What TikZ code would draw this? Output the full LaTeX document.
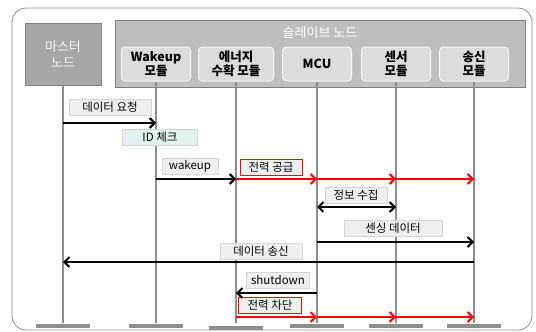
\documentclass[tikz,border=0pt]{standalone}
\usepackage{fontspec}
\setmainfont{Noto Sans CJK KR}
\usepackage{tikz}
\usetikzlibrary{arrows.meta}
\usepackage{xcolor}

\definecolor{framegray}{HTML}{8C8C8C}
\definecolor{mastergray}{HTML}{A6A6A6}
\definecolor{slavegray}{HTML}{BEBEBE}
\definecolor{modgray}{HTML}{DCDCDC}
\definecolor{lblfill}{HTML}{EFEFEF}
\definecolor{lbldraw}{HTML}{D4D4D4}
\definecolor{idfill}{HTML}{E2F1F1}
\definecolor{linegray}{HTML}{8E8E8E}

\tikzset{
    module/.style={draw=white!80!modgray, fill=modgray, rounded corners=4pt, line width=1pt,
        minimum width=69pt, minimum height=34pt, inner sep=0pt, align=center,
        font=\bfseries\fontsize{12.5}{14}\selectfont},
    lbl/.style={draw=lbldraw, fill=lblfill, line width=1pt, minimum height=16pt, inner sep=1pt,
        font=\fontsize{11.5}{12}\selectfont},
    redlbl/.style={lbl, draw=red},
    lifeline/.style={linegray, line width=1.5pt},
    endbar/.style={linegray, line width=4pt},
    barb/.tip={Straight Barb[length=5pt, width=10pt, line width=2pt]},
    call/.style={line width=2pt, -barb},
    power/.style={call, red}
}

\begin{document}
\begin{tikzpicture}[x=1pt, y=-1pt]

    \useasboundingbox (0, 0) rectangle (536, 332);

    % Outer frame
    \draw[framegray, line width=0.8pt, rounded corners=14pt] (12, 8) rectangle (532, 330);

    % Master node
    \node[draw=gray, fill=mastergray, minimum width=76pt, minimum height=62pt, inner sep=0pt,
          align=center, text=white!92!gray, font=\fontsize{13}{16}\selectfont]
          (ma) at (63, 54) {마스터\\노드};

    % Slave node group
    \node[draw=gray, fill=slavegray, minimum width=410pt, minimum height=67pt, inner sep=0pt]
          (sl) at (320, 53.5) {};
    \node[text=white, font=\fontsize{13}{15}\selectfont] (slt) at (320, 33) {슬레이브 노드};

    \node[module] (wk) at (156, 64) {Wakeup\\모듈};
    \node[module, minimum width=75pt] (en) at (236, 64) {에너지\\수확 모듈};
    \node[module] (mc) at (317, 64) {MCU};
    \node[module] (se) at (396, 64) {센서\\모듈};
    \node[module] (tx) at (474, 64) {송신\\모듈};

    % Lifelines and end bars
    \coordinate (bot) at (0, 323);
    \coordinate (bar) at (0, 326);
    \coordinate (barlow) at (0, 328);
    \draw[lifeline] (ma.south) -- (ma |- bot);
    \draw[lifeline] (wk.south) -- (wk |- bot);
    \draw[lifeline] (en.south) -- (en |- bot);
    \draw[lifeline] (mc.south) -- (mc |- bot);
    \draw[lifeline] (se.south) -- (se |- bot);
    \draw[lifeline] (tx.south) -- (tx |- bot);
    \draw[endbar] ([xshift=-27pt]ma |- bar) -- ([xshift=27pt]ma |- bar);
    \draw[endbar] ([xshift=-27pt]wk |- bar) -- ([xshift=27pt]wk |- bar);
    \draw[endbar] ([xshift=-27pt]en |- barlow) -- ([xshift=27pt]en |- barlow);
    \draw[endbar] ([xshift=-27pt]mc |- bar) -- ([xshift=27pt]mc |- bar);
    \draw[endbar] ([xshift=-27pt]se |- bar) -- ([xshift=27pt]se |- bar);
    \draw[endbar] ([xshift=-27pt]tx |- bar) -- ([xshift=27pt]tx |- bar);

    % Message rows
    \coordinate (r1) at (0, 123);  % data request
    \coordinate (r2) at (0, 179);  % wakeup / power on
    \coordinate (r3) at (0, 207);  % collect
    \coordinate (r4) at (0, 242);  % sensing data
    \coordinate (r5) at (0, 262);  % send data
    \coordinate (r6) at (0, 293);  % shutdown
    \coordinate (r7) at (0, 317);  % power off

    % Labels
    \node[lbl, minimum width=82pt] (l1) at (110, 107) {데이터 요청};
    \node[lbl, fill=idfill, minimum width=75pt] (l2) at (160, 137) {ID 체크};
    \node[lbl, minimum width=56pt] (l3) at (190, 166) {wakeup};
    \node[redlbl, minimum width=62pt] (l4) at (271, 167) {전력 공급};
    \node[lbl, minimum width=62pt] (l5) at (356, 195) {정보 수집};
    \node[lbl, minimum width=98pt] (l6) at (393, 228) {센싱 데이터};
    \node[lbl, minimum width=82pt] (l7) at (261, 251) {데이터 송신};
    \node[lbl, minimum width=63pt] (l8) at (278, 280) {shutdown};
    \node[redlbl, minimum width=63pt] (l9) at (270, 305) {전력 차단};

    % Arrows
    \draw[call] (ma |- r1) -- (wk |- r1);
    \draw[call] (wk |- r2) -- (en |- r2);
    \draw[power] (en |- r2) -- (mc |- r2);
    \draw[power] (mc |- r2) -- (se |- r2);
    \draw[power] (se |- r2) -- (tx |- r2);
    \draw[call, barb-barb] (mc |- r3) -- (se |- r3);
    \draw[call] (mc |- r4) -- (tx |- r4);
    \draw[call] (tx |- r5) -- (ma |- r5);
    \draw[call] (mc |- r6) -- (en |- r6);
    \draw[power] (en |- r7) -- (mc |- r7);
    \draw[power] (mc |- r7) -- (se |- r7);
    \draw[power] (se |- r7) -- (tx |- r7);

\end{tikzpicture}
\end{document}
